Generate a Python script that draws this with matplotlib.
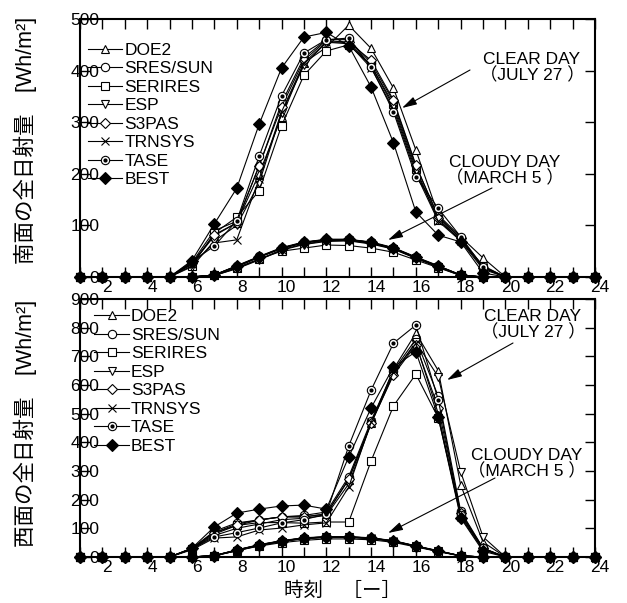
import numpy as np
import matplotlib
matplotlib.use('Agg')
import matplotlib.pyplot as plt
import matplotlib.transforms as mtransforms

plt.rcParams['font.family'] = ['Liberation Sans', 'Noto Sans CJK JP']

hours = list(range(1, 25))
models = ['DOE2', 'SRES/SUN', 'SERIRES', 'ESP', 'S3PAS', 'TRNSYS', 'TASE', 'BEST']

# hours 6..19 (clear) / 7..19 (cloudy); zero elsewhere
z5 = [0] * 5
z6 = [0] * 6
z5t = [0] * 5

# south facade, clear day (July 27)
south_clear = {
  'DOE2':     z5 + [25, 80, 105, 200, 310, 415, 445, 488, 443, 366, 246, 120, 78, 37] + z5t,
  'SRES/SUN': z5 + [28, 90, 108, 215, 337, 425, 460, 460, 415, 340, 215, 118, 75, 20] + z5t,
  'SERIRES':  z5 + [22, 85, 116, 167, 293, 391, 438, 450, 410, 335, 210, 110, 72, 18] + z5t,
  'ESP':      z5 + [20, 70, 100, 182, 318, 410, 455, 455, 410, 330, 205, 112, 72, 22] + z5t,
  'S3PAS':    z5 + [27, 82, 105, 216, 330, 420, 458, 455, 420, 343, 217, 115, 75, 18] + z5t,
  'TRNSYS':   z5 + [25, 66, 72, 190, 320, 415, 455, 452, 405, 325, 200, 108, 70, 15] + z5t,
  'TASE':     z5 + [30, 60, 109, 234, 351, 434, 460, 463, 407, 320, 194, 133, 78, 20] + z5t,
  'BEST':     z5 + [32, 103, 172, 296, 405, 465, 474, 448, 368, 260, 126, 81, 68, 8] + z5t,
}

# south facade, cloudy day (March 5)
south_cloudy = {
  'DOE2':     z6 + [4, 20, 38, 55, 66, 71, 72, 66, 55, 37, 20, 4, 0] + z5t,
  'SRES/SUN': z6 + [4, 21, 39, 56, 67, 72, 72, 67, 56, 38, 21, 4, 0] + z5t,
  'SERIRES':  z6 + [3, 18, 35, 50, 56, 62, 61, 56, 48, 33, 18, 3, 0] + z5t,
  'ESP':      z6 + [3, 16, 33, 52, 63, 69, 70, 64, 54, 36, 19, 3, 0] + z5t,
  'S3PAS':    z6 + [4, 21, 39, 56, 67, 72, 73, 67, 56, 38, 21, 4, 0] + z5t,
  'TRNSYS':   z6 + [3, 17, 34, 53, 64, 70, 71, 65, 55, 37, 20, 3, 0] + z5t,
  'TASE':     z6 + [4, 22, 40, 57, 68, 73, 73, 68, 57, 39, 22, 4, 0] + z5t,
  'BEST':     z6 + [4, 21, 39, 56, 67, 73, 73, 67, 56, 38, 21, 4, 0] + z5t,
}

# west facade, clear day (July 27)
west_clear = {
  'DOE2':     z5 + [30, 85, 115, 130, 140, 140, 150, 270, 467, 655, 781, 650, 251, 52] + z5t,
  'SRES/SUN': z5 + [30, 90, 119, 129, 140, 145, 157, 280, 475, 650, 760, 560, 160, 31] + z5t,
  'SERIRES':  z5 + [28, 80, 110, 120, 120, 118, 122, 122, 335, 527, 638, 485, 150, 28] + z5t,
  'ESP':      z5 + [28, 75, 100, 115, 130, 135, 145, 255, 465, 640, 750, 628, 297, 70] + z5t,
  'S3PAS':    z5 + [30, 85, 110, 129, 140, 140, 150, 272, 467, 635, 740, 520, 155, 30] + z5t,
  'TRNSYS':   z5 + [25, 66, 70, 94, 101, 112, 119, 244, 470, 645, 745, 500, 140, 25] + z5t,
  'TASE':     z5 + [28, 70, 85, 101, 119, 130, 150, 387, 582, 746, 809, 548, 145, 30] + z5t,
  'BEST':     z5 + [31, 105, 153, 167, 178, 181, 167, 349, 520, 663, 716, 488, 136, 20] + z5t,
}

# west facade, cloudy day (March 5)
west_cloudy = {
  'DOE2':     z6 + [5, 23, 41, 55, 65, 69, 69, 65, 55, 37, 20, 4, 0] + z5t,
  'SRES/SUN': z6 + [5, 24, 42, 56, 66, 70, 70, 66, 56, 38, 21, 4, 0] + z5t,
  'SERIRES':  z6 + [4, 22, 38, 50, 58, 63, 63, 60, 51, 35, 19, 3, 0] + z5t,
  'ESP':      z6 + [4, 22, 40, 54, 64, 68, 68, 64, 54, 37, 20, 4, 0] + z5t,
  'S3PAS':    z6 + [5, 24, 42, 56, 66, 70, 70, 66, 56, 38, 21, 4, 0] + z5t,
  'TRNSYS':   z6 + [4, 22, 40, 54, 64, 69, 69, 65, 55, 37, 20, 4, 0] + z5t,
  'TASE':     z6 + [5, 25, 43, 57, 67, 71, 71, 67, 57, 39, 22, 4, 0] + z5t,
  'BEST':     z6 + [5, 24, 42, 56, 66, 70, 70, 66, 56, 38, 21, 4, 0] + z5t,
}

styles = {
  'DOE2':     dict(marker='^', mfc='white', ms=6),
  'SRES/SUN': dict(marker='o', mfc='white', ms=6),
  'SERIRES':  dict(marker='s', mfc='white', ms=5.5),
  'ESP':      dict(marker='v', mfc='white', ms=6),
  'S3PAS':    dict(marker='D', mfc='white', ms=5.5),
  'TRNSYS':   dict(marker='x', mfc='white', ms=6),
  'TASE':     dict(marker='o', mfc='white', ms=6),
  'BEST':     dict(marker='D', mfc='black', ms=6),
}

fig = plt.figure(figsize=(6.27, 6.03), dpi=100)
ax1 = fig.add_axes([0.1276, 0.5406, 0.8214, 0.4279])
ax2 = fig.add_axes([0.1276, 0.0763, 0.8214, 0.4279])


def draw(ax, clear, cloudy, ymax, leg_xy, notes):
  handles = []
  for m in models:
    st = styles[m]
    for data in (clear, cloudy):
      ln, = ax.plot(hours, data[m], color='black', lw=0.8, mec='black',
                    mew=0.8, clip_on=False, **st)
      if m == 'TASE':
        ax.plot(hours, data[m], ls='none', marker='o', ms=2, color='black',
                clip_on=False)
    if m == 'TASE':
      dot, = ax.plot([], [], ls='none', marker='o', ms=2, color='black')
      handles.append((ln, dot))
    else:
      handles.append(ln)
  ax.legend(handles, models, loc='upper left', bbox_to_anchor=leg_xy,
            frameon=False, fontsize=12.5, handlelength=2.0, handletextpad=0.1,
            labelspacing=0.19, borderpad=0, borderaxespad=0)

  ax.set_xlim(1, 24)
  ax.set_ylim(0, ymax)
  ax.set_xticks(hours)
  ax.set_xticklabels([str(h) if h % 2 == 0 else '' for h in hours])
  ax.set_yticks(np.arange(0, ymax + 1, 100))
  ax.tick_params(axis='both', direction='in', top=True, right=True,
                 length=7, width=1, labelsize=12.5)
  ax.tick_params(axis='y', pad=-14)
  ax.tick_params(axis='x', pad=2)
  off = mtransforms.ScaledTranslation(5 / 100, 0, fig.dpi_scale_trans)
  for lab in ax.get_xticklabels():
    lab.set_transform(lab.get_transform() + off)
  for s in ax.spines.values():
    s.set_linewidth(1.5)

  for txt, xy_txt, xy_arr, xy_end in notes:
    ax.annotate('', xy=xy_end, xytext=xy_arr, xycoords='figure pixels',
                textcoords='figure pixels',
                arrowprops=dict(arrowstyle='-|>,head_length=0.9,head_width=0.25',
                                color='black', lw=0.8, shrinkA=0, shrinkB=0))
    ax.text(xy_txt[0], xy_txt[1], txt, transform=None, ha='center',
            va='center', fontsize=12.5, linespacing=1.0)


H = 603
draw(ax1, south_clear, south_cloudy, 500, (0.015, 0.908),
     [('CLEAR DAY\n（JULY 27 ）', (532, H - 68), (470, H - 70), (402, H - 108)),
      ('CLOUDY DAY\n（MARCH 5 ）', (505, H - 171), (492, H - 188), (388, H - 240))])
draw(ax2, west_clear, west_cloudy, 900, (0.028, 0.96),
     [('CLEAR DAY\n（JULY 27 ）', (533, H - 325), (513, H - 343), (447, H - 380)),
      ('CLOUDY DAY\n（MARCH 5 ）', (527, H - 464), (495, H - 478), (388, H - 533))])

fig.text(25 / 627, 1 - 140 / H, '南面の全日射量　[Wh/m²]', rotation=90,
         ha='center', va='center', fontsize=15.5)
fig.text(25 / 627, 1 - 423 / H, '西面の全日射量　[Wh/m²]', rotation=90,
         ha='center', va='center', fontsize=15.5)
fig.text(343 / 627, 1 - 591 / H, '時刻　［ー］', ha='center', va='center',
         fontsize=14)

fig.savefig('out.png', dpi=100)
